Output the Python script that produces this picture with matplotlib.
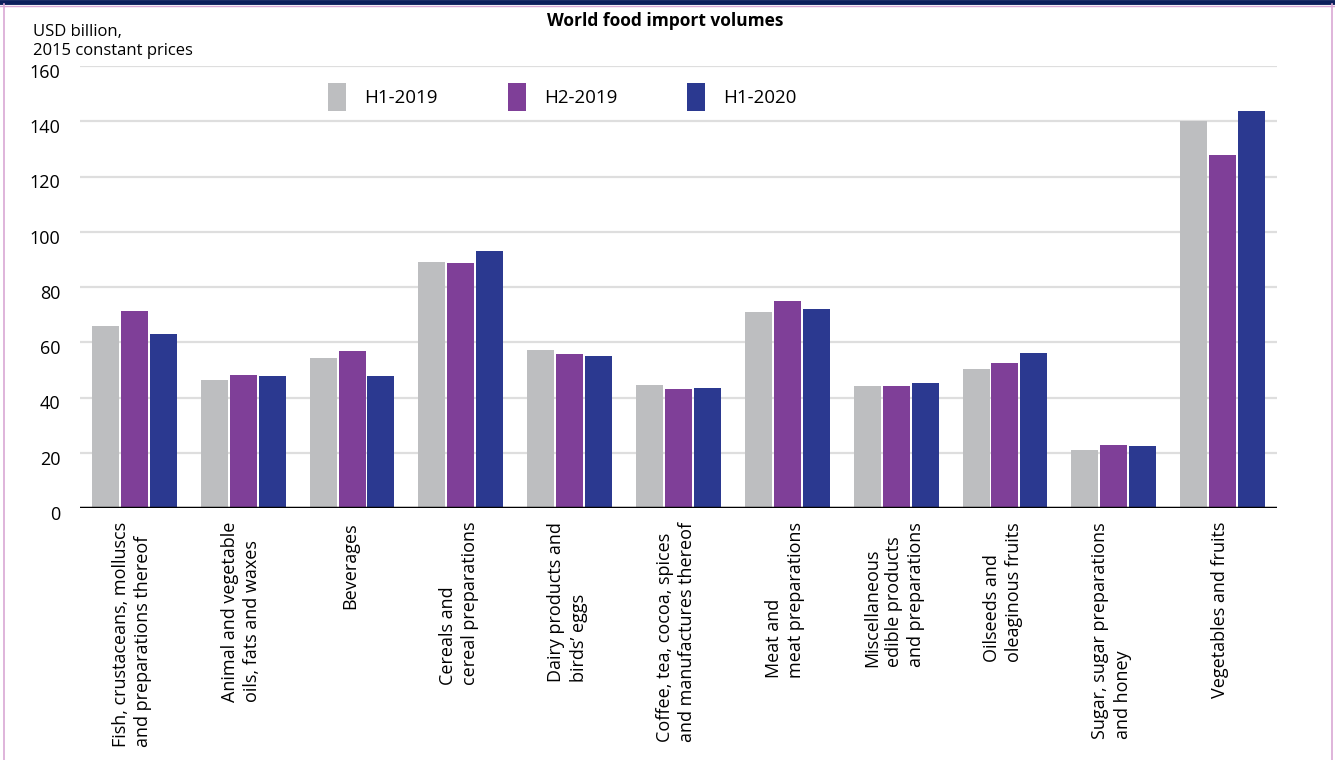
import numpy as np
import matplotlib.pyplot as plt
from matplotlib.lines import Line2D

plt.rcParams['font.family'] = ['Open Sans', 'DejaVu Sans']

# Veriler
categories = [
    "Fish, crustaceans, molluscs\nand preparations thereof",
    "Animal and vegetable\noils, fats and waxes",
    "Beverages",
    "Cereals and\ncereal preparations",
    "Dairy products and\nbirds\u2019 eggs",
    "Coffee, tea, cocoa, spices\nand manufactures thereof",
    "Meat and\nmeat preparations",
    "Miscellaneous\nedible products\nand preparations",
    "Oilseeds and\noleaginous fruits",
    "Sugar, sugar preparations\nand honey",
    "Vegetables and fruits",
]
h1_2019 = [65.9, 46.3, 54.3, 89.0, 57.2, 44.5, 71.0, 44.2, 50.3, 21.0, 140.1]
h2_2019 = [71.3, 48.1, 56.8, 88.7, 55.7, 43.1, 74.9, 44.2, 52.5, 22.8, 127.8]
h1_2020 = [63.0, 47.8, 47.8, 93.0, 55.0, 43.4, 72.0, 45.2, 56.1, 22.4, 143.7]
series_names = ['H1-2019', 'H2-2019', 'H1-2020']
colors = ['#bdbec0', '#7f3f98', '#2b3990']
yticks = [0, 20, 40, 60, 80, 100, 120, 140, 160]

fig = plt.figure(figsize=(13.35, 7.6), dpi=100)
ax = fig.add_axes([80 / 1335, 1 - 508 / 760, 1197 / 1335, 442 / 760])

x = np.arange(len(categories))
bw = 0.248
step = 0.266
for k, (vals, col, name) in enumerate(zip([h1_2019, h2_2019, h1_2020], colors, series_names)):
    ax.bar(x + (k - 1) * step, vals, width=bw, color=col, label=name, zorder=3)

ax.set_xlim(-0.5, len(categories) - 0.5)
ax.set_ylim(0, 160)
ax.set_yticks(yticks)
ax.set_yticklabels([])
ax.tick_params(axis='both', length=0)
ax.set_xticks(x)
ax.set_xticklabels([])

# y etiketleri (çizginin biraz altında)
for v in yticks:
    ax.annotate(str(v), xy=(0, v), xycoords=('axes fraction', 'data'), xytext=(-14, -5),
                textcoords='offset points', ha='right', va='center', fontsize=13)

# kategori etiketleri
for xi, lab in zip(x, categories):
    ax.annotate(lab, xy=(xi - 0.02, 0), xycoords=('data', 'axes fraction'), xytext=(0, -10),
                textcoords='offset points', rotation=90, ha='center', va='top',
                multialignment='left', fontsize=13, linespacing=1.3)

ax.grid(axis='y', color='#dedede', linewidth=1.6, zorder=0)
for s in ax.spines.values():
    s.set_visible(False)
ax.axhline(0, color='black', linewidth=2.5, zorder=4)

# Lejant
ax.legend(loc='upper left', bbox_to_anchor=(0.193, 0.999), ncol=3, frameon=False,
          fontsize=13.5, handlelength=0.96, handleheight=1.9, handletextpad=0.96,
          columnspacing=3.75)

# Başlık ve birim
fig.text(665 / 1335, 1 - 21 / 760, 'World food import volumes', ha='center', va='center',
         fontsize=12.5, fontweight='bold')
fig.text(33 / 1335, 1 - 24 / 760, 'USD billion,\n2015 constant prices', ha='left', va='top',
         fontsize=12, linespacing=1.25)

# Çerçeve çizgileri
fig.add_artist(Line2D([0, 1], [0.998, 0.998], transform=fig.transFigure, color='#0b1f5c', linewidth=3.5))
fig.add_artist(Line2D([0.003, 0.003], [0, 0.995], transform=fig.transFigure, color='#d9a8d4', linewidth=1.2))
fig.add_artist(Line2D([0.998, 0.998], [0, 0.995], transform=fig.transFigure, color='#d9a8d4', linewidth=1.2))
fig.add_artist(Line2D([0, 1], [0.992, 0.992], transform=fig.transFigure, color='#d9a8d4', linewidth=1.0))

fig.savefig('out.png', dpi=100)
